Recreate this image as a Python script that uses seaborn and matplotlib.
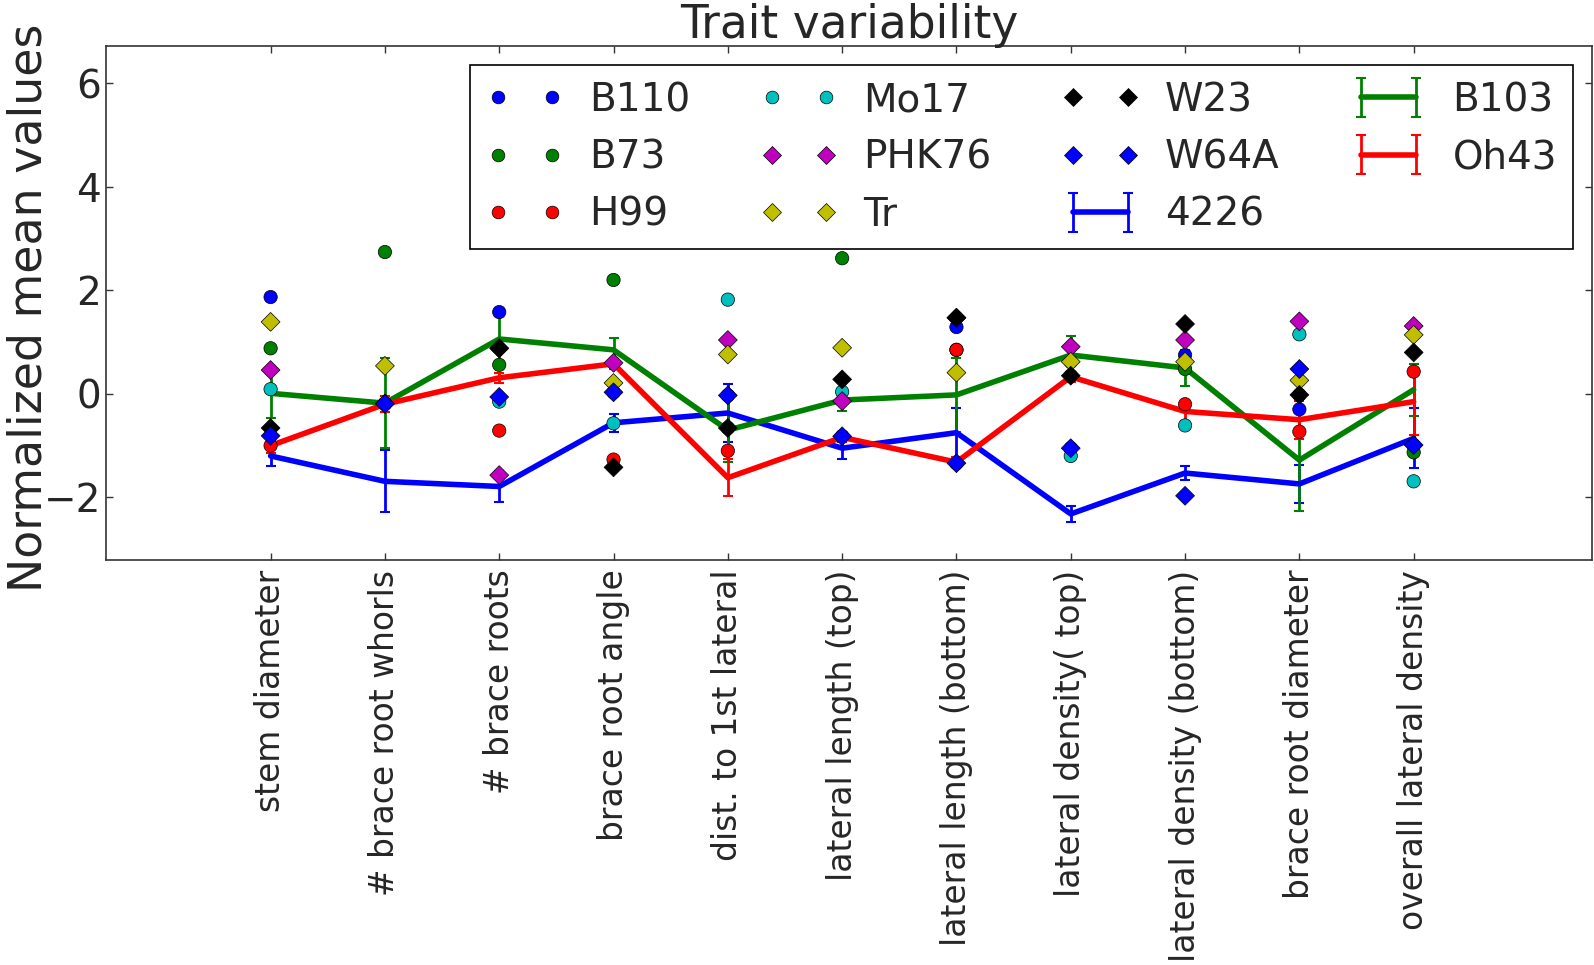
import numpy as np
import pandas as pd
import matplotlib
matplotlib.use("Agg")
import matplotlib.pyplot as plt
from matplotlib.lines import Line2D
import seaborn as sns

# ---- data -------------------------------------------------------------
traits = [
    "stem diameter", "# brace root whorls", "# brace roots", "brace root angle",
    "dist. to 1st lateral", "lateral length (top)", "lateral length (bottom)",
    "lateral density( top)", "lateral density (bottom)", "brace root diameter",
    "overall lateral density",
]

# individual genotypes (normalized trait means)
B110 = [1.87, -0.19, 1.58, 0.03, -0.03, -0.82, 1.29, -1.05, 0.75, -0.30, -0.99]
B73 = [0.88, 2.74, 0.56, 2.20, -0.66, 2.62, 0.85, 0.62, 0.48, -0.02, -1.13]
H99 = [-1.00, -0.19, -0.71, -1.27, -1.10, -0.82, 0.85, 0.35, -0.20, -0.73, 0.43]
Mo17 = [0.09, -0.19, -0.15, -0.57, 1.82, 0.04, -1.34, -1.20, -0.61, 1.15, -1.69]
PHK76 = [0.46, -0.19, -1.57, 0.60, 1.04, -0.14, 1.47, 0.91, 1.04, 1.40, 1.31]
Tr = [1.39, 0.54, 0.88, 0.21, 0.76, 0.89, 0.41, 0.62, 0.62, 0.26, 1.14]
W23 = [-0.66, -0.19, 0.88, -1.42, -0.66, 0.28, 1.47, 0.35, 1.35, -0.02, 0.80]
W64A = [-0.81, -0.19, -0.06, 0.03, -0.03, -0.82, -1.34, -1.05, -1.97, 0.48, -0.99]

# genotypes shown with mean +/- error
G4226 = [-1.20, -1.69, -1.79, -0.56, -0.37, -1.05, -0.75, -2.32, -1.53, -1.74, -0.86]
G4226_err = [0.19, 0.60, 0.29, 0.18, 0.56, 0.20, 0.47, 0.15, 0.14, 0.37, 0.58]
B103 = [0.01, -0.18, 1.06, 0.85, -0.70, -0.12, -0.02, 0.75, 0.50, -1.28, 0.08]
B103_err = [0.48, 0.87, 0.50, 0.22, 0.62, 0.22, 0.71, 0.37, 0.35, 0.99, 0.50]
Oh43 = [-1.00, -0.20, 0.31, 0.58, -1.62, -0.84, -1.32, 0.33, -0.34, -0.50, -0.15]
Oh43_err = [0.15, 0.15, 0.10, 0.10, 0.36, 0.10, 0.10, 0.10, 0.18, 0.37, 0.65]

point_names = ["B110", "B73", "H99", "Mo17", "PHK76", "Tr", "W23", "W64A"]
point_values = [B110, B73, H99, Mo17, PHK76, Tr, W23, W64A]
point_colors = ["b", "g", "r", "c", "m", "y", "k", "b"]
point_markers = ["o", "o", "o", "o", "D", "D", "D", "D"]

line_names = ["4226", "B103", "Oh43"]
line_values = [G4226, B103, Oh43]
line_errors = [G4226_err, B103_err, Oh43_err]
line_colors = ["b", "g", "r"]

# ---- style ------------------------------------------------------------
sns.set_style("white")
plt.rcParams["font.family"] = ["DejaVu Sans"]
plt.rcParams["axes.unicode_minus"] = True

DPI = 100
fig = plt.figure(figsize=(15.94, 9.65), dpi=DPI)
W, H = 1594, 965
ax = fig.add_axes([106 / W, 1 - 560 / H, (1592 - 106) / W, (560 - 46) / H])

pos = np.arange(len(traits))

# mean lines with error bars
containers = []
for name, vals, errs, col in zip(line_names, line_values, line_errors, line_colors):
    c = ax.errorbar(pos, vals, yerr=errs, color=col, lw=4, elinewidth=2,
                    capsize=3.5, capthick=1.5, label=name, zorder=2)
    containers.append(c)

# genotype points, drawn in genotype order so later genotypes sit on top
rows = []
for name, vals in zip(point_names, point_values):
    for p, v in zip(pos, vals):
        rows.append({"trait": p, "value": v, "genotype": name})
df = pd.DataFrame(rows)

ms = 9.6
sns.scatterplot(
    data=df, x="trait", y="value", hue="genotype", style="genotype",
    hue_order=point_names, style_order=point_names,
    palette=dict(zip(point_names, [matplotlib.colors.to_rgb(c) for c in point_colors])),
    markers=dict(zip(point_names, point_markers)),
    s=ms ** 2, edgecolor="k", linewidth=0.5, legend=False, zorder=3, ax=ax,
)

# ---- axes -------------------------------------------------------------
ax.set_xlim(-1.44, 11.56)
ax.set_ylim(-3.21, 6.72)
ax.set_xticks(pos)
ax.set_xticklabels(traits, rotation=90, fontsize=23.7)
ax.set_yticks([-2, 0, 2, 4, 6])
ax.tick_params(axis="y", labelsize=28)
ax.tick_params(direction="in", length=5, width=1, top=True, right=True,
               bottom=True, left=True, color="#333333")
ax.tick_params(axis="x", pad=7)
ax.set_xlabel("")
ax.set_ylabel("Normalized mean values", fontsize=33)
ax.yaxis.set_label_coords(-0.037, 0.49)
ax.set_title("Trait variability", fontsize=32.8, pad=6)
for sp in ax.spines.values():
    sp.set_color("#333333")
    sp.set_linewidth(1.2)

# ---- legend -----------------------------------------------------------
handles = []
for name, col, mk in zip(point_names, point_colors, point_markers):
    handles.append(Line2D([], [], linestyle="none", marker=mk, color=col,
                          markeredgecolor="k", markeredgewidth=0.5,
                          markersize=ms * 0.95))
handles += containers
labels = point_names + line_names
leg = ax.legend(handles, labels, loc="upper right", ncol=4, numpoints=2,
                fontsize=28, frameon=True, fancybox=False, framealpha=1,
                borderpad=0.4, labelspacing=0.5, handlelength=2.0,
                handletextpad=0.65, columnspacing=1.8, borderaxespad=0.5)
leg.get_frame().set_edgecolor("k")
leg.get_frame().set_linewidth(1.2)

fig.savefig("out.png", dpi=DPI)
